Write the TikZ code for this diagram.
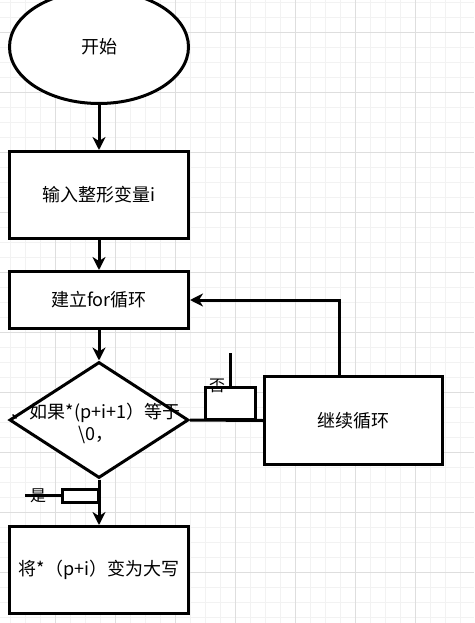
\documentclass[tikz,border=0pt]{standalone}
\usepackage{fontspec}
\setmainfont{Noto Sans CJK SC}
\usetikzlibrary{shapes.geometric,arrows.meta}

\begin{document}
\begin{tikzpicture}[x=1pt,y=-1pt,
  line width=3pt,
  every node/.style={font=\fontsize{18}{22}\selectfont},
  stepbox/.style={draw,fill=white,minimum width=179pt,minimum height=#1,inner sep=0pt},
  labelbox/.style={draw,fill=white,inner sep=0pt},
  flow/.style={-{Stealth[length=13pt,width=13pt,inset=4pt]}}]

\useasboundingbox (0,0) rectangle (474,623);
\fill[white] (0,0) rectangle (474,623);
\foreach \x in {10,25,...,474} \draw[line width=0.4pt,draw=black!5] (\x,0) -- (\x,623);
\foreach \y in {2,17,...,623} \draw[line width=0.4pt,draw=black!5] (0,\y) -- (474,\y);
\foreach \x in {55,115,...,474} \draw[line width=0.6pt,draw=black!13] (\x,0) -- (\x,623);
\foreach \y in {32,92,...,623} \draw[line width=0.6pt,draw=black!13] (0,\y) -- (474,\y);

\node[ellipse,draw,fill=white,minimum width=179pt,minimum height=113pt] (start) at (99,47) {开始};
\node[stepbox=87pt] (input) at (99,195) {输入整形变量i};
\node[stepbox=57pt] (loop) at (99,300) {建立for循环};
\node[diamond,draw,fill=white,minimum width=179pt,minimum height=116pt,inner sep=0pt] (cond) at (99,420) {};
\node[align=center,inner sep=0pt] (condtext) at (96,423) {、如果*(p+i+1）等于\\\textbackslash0，};
\node[stepbox=87pt] (upper) at (99,570) {将*（p+i）变为大写};
\node[stepbox=88pt,minimum width=178pt] (cont) at (353.5,420.5) {继续循环};

\draw[flow] (start) -- (input);
\draw[flow] (input) -- (loop);
\draw[flow] (loop) -- (cond);
\draw[flow] (cond.south) -- (upper);
\draw (cond.east) -- (cont.west);
\draw[flow] ([xshift=-14.5pt]cont.north) |- (loop.east);

\node[labelbox,minimum width=50pt,minimum height=32pt] (nobox) at (230.5,403.5) {};
\coordinate (notop) at (230.5,353);
\draw (nobox.north) -- (notop);
\node[font=\fontsize{16}{18}\selectfont] (nolabel) at (217,386) {否};

\node[labelbox,minimum width=36pt,minimum height=13pt] (yesbox) at (80,495.5) {};
\coordinate (yesend) at (25,495.5);
\draw (yesbox.west) -- (yesend);
\node[font=\fontsize{16}{18}\selectfont] (yeslabel) at (38,496) {是};

\end{tikzpicture}
\end{document}
